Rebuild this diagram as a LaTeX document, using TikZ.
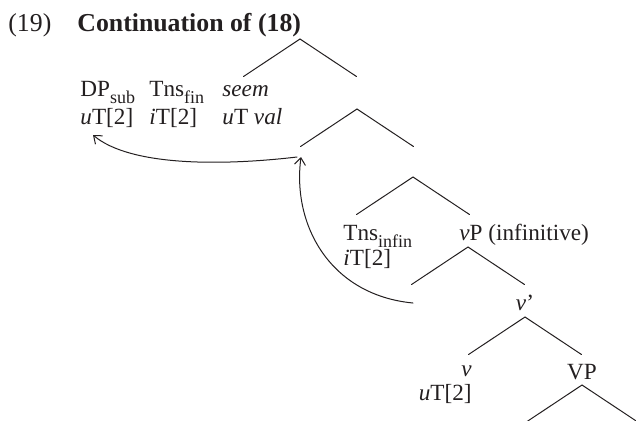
\documentclass[tikz,border=0pt]{standalone}
\usepackage{fontspec}
\setmainfont{Liberation Serif}
\usetikzlibrary{arrows.meta}
\definecolor{inkc}{RGB}{35,31,32}

% lowered, smaller subscript text
\newcommand{\lo}[1]{\raisebox{-0.32em}{\fontsize{9}{9}\selectfont #1}}

\begin{document}
\begin{tikzpicture}[x=0.5pt, y=-0.5pt, >={Straight Barb[length=3.5pt,width=5.5pt]},
    font=\fontsize{11.6}{13}\selectfont, line cap=round,
    branch/.style={inkc, line width=0.5pt},
    move/.style={->, inkc, line width=0.5pt},
    lbl/.style={inkc, inner sep=0pt, anchor=base west}]
  \def\hx{56.5}   % half width of a branching
  \def\hy{37.5}   % height of a branching
  \clip (0,0) rectangle (636,420);

  % heading
  \node[lbl, font=\fontsize{12.9}{14}\selectfont] (exnum) at (8,31) {(19)};
  \node[lbl, font=\fontsize{12.9}{14}\selectfont\bfseries] (extitle) at (77,31)
    {Continuation of (18)};

  % branchings, apex by apex
  \foreach \n/\x/\y in {t1/300/39, t2/357/109, t3/413/177, t4/468/247, t5/525/317, t6/582/385}{
    \coordinate (\n) at (\x,\y);
    \coordinate (\n-l) at (\x-\hx,\y+\hy);
    \coordinate (\n-r) at (\x+\hx,\y+\hy);
    \draw[branch] (\n-l) -- (\n) -- (\n-r);
  }

  % left-hand block under t1
  \node[lbl] (dp)    at (80,96)   {DP\lo{sub}};
  \node[lbl] (dpf)   at (80,124)  {\textit{u}T[2]};
  \node[lbl] (tns)   at (149,96)  {Tns\lo{fin}};
  \node[lbl] (tnsf)  at (149,124) {\textit{i}T[2]};
  \node[lbl] (seem)  at (222,96)  {\textit{seem}};
  \node[lbl] (seemf) at (222,124) {\textit{u}T \textit{val}};

  % lower part of the tree
  \node[lbl] (tinf)  at (343,240) {Tns\lo{infin}};
  \node[lbl] (tinff) at (343,265) {\textit{i}T[2]};
  \node[lbl] (vp)    at (459,240) {\textit{v}P (infinitive)};
  \node[lbl, anchor=base] (vbar) at (525,310) {\textit{v}’};
  \node[lbl, anchor=base east] (v)  at (472,376) {\textit{v}};
  \node[lbl, anchor=base east] (vf) at (472,400) {\textit{u}T[2]};
  \node[lbl, anchor=base] (vpp) at (582,379) {VP};

  % movement arrows
  \coordinate (trA) at (297,157);
  \coordinate (trB) at (301,157);
  \coordinate (trC) at (413,303);
  \coordinate (dptip) at (93,135);
  \draw[move] (trA) .. controls (220,166) and (130,166) .. (dptip);
  \draw[move] (trC) .. controls (330,295) and (292,225) .. (trB);
\end{tikzpicture}
\end{document}
